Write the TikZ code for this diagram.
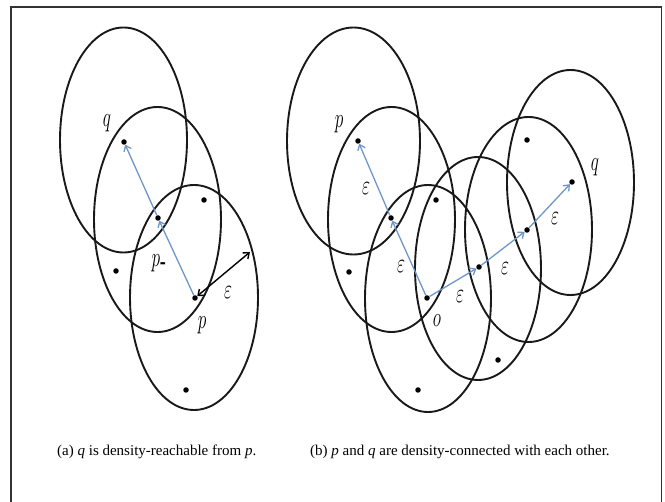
\documentclass[tikz,border=0pt]{standalone}
\usepackage{fontspec}
\usepackage{graphicx}
\setmainfont{Liberation Serif}
\usetikzlibrary{arrows.meta}
\definecolor{hopblue}{RGB}{110,150,200}
\newcommand{\hand}[1]{\scalebox{1}[1.6]{$#1$}}
\tikzset{
  ring/.style={line width=1.9pt, draw=black!90},
  dot/.style={circle, fill=black, inner sep=0pt, minimum size=5.5pt},
  hop/.style={line width=1.3pt, draw=hopblue, -{Straight Barb[length=5pt,width=8pt]}},
  lbl/.style={font=\fontsize{18}{20}\selectfont, inner sep=0pt},
  caption/.style={font=\fontsize{15}{18}\selectfont, anchor=base west, inner sep=0pt},
}
\begin{document}
\begin{tikzpicture}[x=1pt,y=-1pt]
\useasboundingbox (0,0) rectangle (665,502);
% frame
\draw[line width=1.3pt, black!80] (11,502) -- (11,7) -- (661.5,7) -- (661.5,502);

% (a) neighbourhoods
\draw[ring] (123.5,140) ellipse [x radius=63.5pt, y radius=112.5pt];
\draw[ring] (157.5,219.5) ellipse [x radius=63.5pt, y radius=112.5pt];
\draw[ring] (194,297.5) ellipse [x radius=64pt, y radius=112.5pt];
\node[dot] (q) at (124,142) {};
\node[dot] (pm) at (158,218) {};
\node[dot] (p) at (195,298) {};
\node[dot] (a1) at (204,200) {};
\node[dot] (a2) at (116,271) {};
\node[dot] (a3) at (186,390) {};
\coordinate (rim) at (250,252);
\draw[hop] (p) -- (pm);
\draw[hop] (pm) -- (q);
\draw[line width=1.4pt, {Straight Barb[length=5pt,width=8pt]}-{Straight Barb[length=5pt,width=8pt]}] (p) -- (rim);
\node[lbl] (lq) at (107,123) {\hand{q}};
\node[lbl] (lpm) at (159,263) {\hand{p_{\mbox{-}}}};
\node[lbl] (lp) at (202,325) {\hand{p}};
\node[lbl] (le) at (228,293) {\hand{\varepsilon}};

% (b) neighbourhoods
\draw[ring] (353.5,141) ellipse [x radius=66.5pt, y radius=113.5pt];
\draw[ring] (391.5,219.5) ellipse [x radius=63.5pt, y radius=112.5pt];
\draw[ring] (428,298.5) ellipse [x radius=63pt, y radius=113.5pt];
\draw[ring] (478,268.5) ellipse [x radius=63pt, y radius=111.5pt];
\draw[ring] (528.5,229.5) ellipse [x radius=63.5pt, y radius=112.5pt];
\draw[ring] (570.5,182.5) ellipse [x radius=63.5pt, y radius=112.5pt];
\node[dot] (bp) at (358,141) {};
\node[dot] (b1) at (391,218) {};
\node[dot] (o) at (427,298) {};
\node[dot] (b2) at (479,267) {};
\node[dot] (b3) at (527,230) {};
\node[dot] (bq) at (572,182) {};
\node[dot] (c1) at (436,200) {};
\node[dot] (c2) at (349,272) {};
\node[dot] (c3) at (418,390) {};
\node[dot] (c4) at (498,360) {};
\node[dot] (c5) at (527,140) {};
\draw[hop] (o) -- (b1);
\draw[hop] (b1) -- (bp);
\draw[hop] (o) -- (b2);
\draw[hop] (b2) -- (b3);
\draw[hop] (b3) -- (bq);
\node[lbl] (lbp) at (339,124) {\hand{p}};
\node[lbl] (lbq) at (595,167) {\hand{q}};
\node[lbl] (lo) at (437,321) {\hand{o}};
\node[lbl] (e1) at (366,189) {\hand{\varepsilon}};
\node[lbl] (e2) at (401,267) {\hand{\varepsilon}};
\node[lbl] (e3) at (460,297) {\hand{\varepsilon}};
\node[lbl] (e4) at (505,269) {\hand{\varepsilon}};
\node[lbl] (e5) at (555,219) {\hand{\varepsilon}};

% captions
\node[caption] (capa) at (57,456) {(a) \textit{q} is density-reachable from \textit{p}.};
\node[caption] (capb) at (310,456) {(b) \textit{p} and \textit{q} are density-connected with each other.};
\end{tikzpicture}
\end{document}
